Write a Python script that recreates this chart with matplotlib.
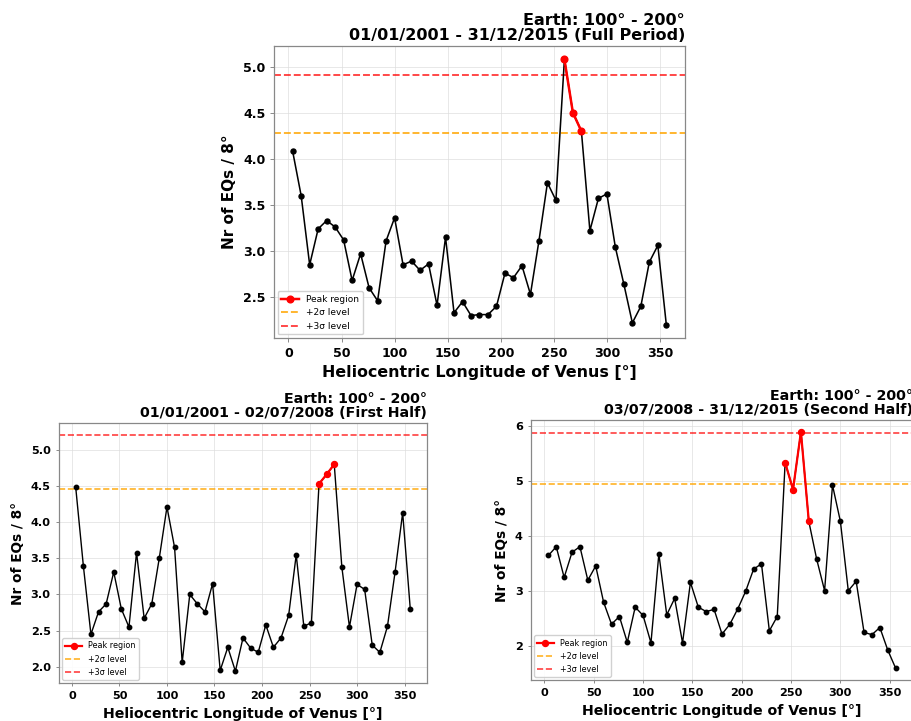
import numpy as np
import matplotlib
matplotlib.use("Agg")
from matplotlib import pyplot as plt

# bin centres (8 degree bins)
lon = np.arange(4, 360, 8)

full_vals = [4.08, 3.60, 2.85, 3.24, 3.33, 3.26, 3.12, 2.68, 2.97, 2.60, 2.46,
             3.11, 3.36, 2.85, 2.89, 2.79, 2.86, 2.41, 3.15, 2.33, 2.45, 2.30,
             2.31, 2.31, 2.40, 2.76, 2.71, 2.84, 2.53, 3.11, 3.74, 3.55, 5.08,
             4.50, 4.30, 3.22, 3.57, 3.62, 3.04, 2.64, 2.22, 2.40, 2.88, 3.06,
             2.20]
first_vals = [4.48, 3.40, 2.45, 2.76, 2.87, 3.31, 2.80, 2.55, 3.58, 2.67, 2.87,
              3.51, 4.21, 3.65, 2.06, 3.00, 2.87, 2.76, 3.15, 1.95, 2.27, 1.94,
              2.40, 2.26, 2.20, 2.58, 2.27, 2.40, 2.71, 3.55, 2.56, 2.61, 4.53,
              4.66, 4.80, 3.38, 2.55, 3.14, 3.07, 2.30, 2.20, 2.56, 3.31, 4.13,
              2.80]
second_vals = [3.65, 3.81, 3.25, 3.71, 3.81, 3.20, 3.46, 2.80, 2.40, 2.54, 2.07,
               2.71, 2.56, 2.06, 3.68, 2.57, 2.87, 2.06, 3.16, 2.71, 2.63, 2.67,
               2.22, 2.40, 2.68, 3.00, 3.40, 3.50, 2.28, 2.54, 5.34, 4.85, 5.90,
               4.27, 3.58, 3.01, 4.93, 4.27, 3.01, 3.18, 2.25, 2.21, 2.34, 1.93,
               1.60]

full_peak = [260, 276]
first_peak = [260, 276]
second_peak = [244, 268]

full_levels = (4.277, 4.913)
first_levels = (4.465, 5.207)
second_levels = (4.956, 5.885)

titles = [
    "Earth: 100° - 200°\n01/01/2001 - 31/12/2015 (Full Period)",
    "Earth: 100° - 200°\n01/01/2001 - 02/07/2008 (First Half)",
    "Earth: 100° - 200°\n03/07/2008 - 31/12/2015 (Second Half)",
]


def draw_panel(ax, vals, peak, levels, title, s=1.0):
    vals = np.asarray(vals)
    ax.plot(lon, vals, "-o", color="black", lw=1.0 * s, ms=3.2 * s, zorder=3)
    m = (lon >= peak[0]) & (lon <= peak[1])
    ax.plot(lon[m], vals[m], "-o", color="red", lw=1.6 * s, ms=4.3 * s,
            zorder=4, label="Peak region")
    ax.axhline(levels[0], color="orange", ls="--", lw=1.2 * s, alpha=0.85,
               label="+2σ level")
    ax.axhline(levels[1], color="red", ls="--", lw=1.2 * s, alpha=0.75,
               label="+3σ level")

    ax.set_xticks([0, 50, 100, 150, 200, 250, 300, 350])
    ax.set_xlabel("Heliocentric Longitude of Venus [°]", fontsize=10.2 * s,
                  fontweight="bold")
    ax.set_ylabel("Nr of EQs / 8°", fontsize=9.8 * s, fontweight="bold")
    ax.set_title(title, loc="right", fontsize=10.3 * s, fontweight="bold",
                 linespacing=1.0, pad=4 * s)
    ax.tick_params(labelsize=8.1 * s, width=0.6, length=2.5 * s, color="#777777")
    for lab in ax.get_xticklabels() + ax.get_yticklabels():
        lab.set_fontweight("bold")
    for sp in ax.spines.values():
        sp.set_color("#888888")
        sp.set_linewidth(0.9)
    ax.grid(True, color="#dddddd", lw=0.6, alpha=0.8)
    ax.set_axisbelow(True)
    ax.legend(loc="lower left", fontsize=5.8 * s, framealpha=0.9,
              edgecolor="#cccccc", handlelength=2.0, borderaxespad=0.4)


fig = plt.figure(figsize=(9.12, 7.21), dpi=100)

ax_top = fig.add_axes([274 / 912, 1 - 338 / 721, 411 / 912, 292 / 721])
ax_bl = fig.add_axes([59 / 912, 1 - 683 / 721, 368 / 912, 260 / 721])
ax_br = fig.add_axes([531 / 912, 1 - 680 / 721, 382 / 912, 260 / 721])

draw_panel(ax_top, full_vals, full_peak, full_levels, titles[0], s=1.12)
draw_panel(ax_bl, first_vals, first_peak, first_levels, titles[1])
draw_panel(ax_br, second_vals, second_peak, second_levels, titles[2])

fig.savefig("out.png", dpi=100)
